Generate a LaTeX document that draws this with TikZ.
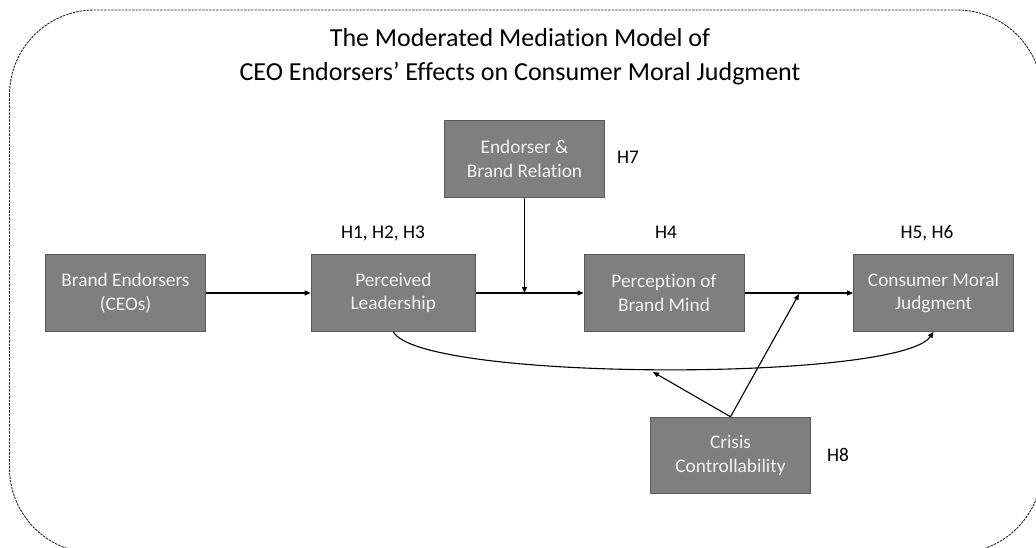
\documentclass[tikz,border=0pt]{standalone}
\usepackage{fontspec}
\setmainfont[Ligatures=CommonOff]{Carlito}
\usepackage{tikz}
\usetikzlibrary{positioning}
\usetikzlibrary{arrows.meta}
\usetikzlibrary{calc}
\definecolor{boxgray}{HTML}{7F7F7F}
\definecolor{boxline}{HTML}{595959}
\definecolor{boxtext}{HTML}{F2F2F2}
\newcommand{\bxfont}{\fontsize{19.3}{23.4}\selectfont}
\newcommand{\ttlfont}{\fontsize{26}{34}\selectfont}
\tikzstyle{box}=[rectangle,draw=boxline,fill=boxgray,text=boxtext,line width=1pt,minimum width=160pt,minimum height=76.5pt,inner sep=0pt,align=center,font=\bxfont]
\tikzstyle{edge} = [draw,line width=1.1pt,-{Triangle[length=6pt,width=5pt]}]
\tikzstyle{hyp} = [font=\bxfont,text=black,anchor=base]
\tikzstyle{frame} = [draw=black!85,line width=0.9pt,dash pattern=on 2.5pt off 1pt,rounded corners=85pt]

\begin{document}
\begin{tikzpicture}[x=1pt,y=-1pt]

 \useasboundingbox (0,0) rectangle (1036,548);
 \clip (0,0) rectangle (1036,548);

 %frame
 \path[frame] (9.5,10) rectangle (1042,553);

 %title
 \node[anchor=base,font=\ttlfont] (title1) at (520,46.7) {The Moderated Mediation Model of};
 \node[anchor=base,font=\ttlfont] (title2) at (520,80.7) {CEO Endorsers’ Effects on Consumer Moral Judgment};

 %boxes
 \foreach \x/\y/\name/\label in {125.5/293/brand/{Brand Endorsers\\(CEOs)}, 664/293/mind/{Perception of\\Brand Mind}, 933.5/293/moral/{Consumer Moral\\Judgment}, 524.5/159/relation/{Endorser \&\\Brand Relation}, 730.5/455.5/crisis/{Crisis\\Controllability}}
   \node[box] (\name) at (\x,\y) {\label};

 \node[box,minimum width=164.3pt] (lead) at (393.3,293) {Perceived\\Leadership};

 %hypotheses
 \foreach \x/\y/\name/\label in {383/239/h1/{H1, H2, H3}, 666/239/h4/H4, 927/239/h5/{H5, H6}, 628/163.3/h7/H7, 838/461.7/h8/H8}
   \node[hyp] (\name) at (\x,\y) {\label};

 %paths
 \coordinate (rmid) at (relation.south |- lead.east);
 \coordinate (lmid) at (799,294);
 \coordinate (cmid) at (653,372);

 \foreach \source/ \dest in {brand/lead, lead/mind, mind/moral}
   \path[edge] (\source) -- (\dest);

 \path[edge] (relation) -- (rmid);
 \path[edge] (lead.south) .. controls +(27,50) and +(-33,50) .. (moral.south);

 \foreach \dest in {cmid, lmid}
   \path[edge] (crisis.north) -- (\dest);

\end{tikzpicture}
\end{document}
